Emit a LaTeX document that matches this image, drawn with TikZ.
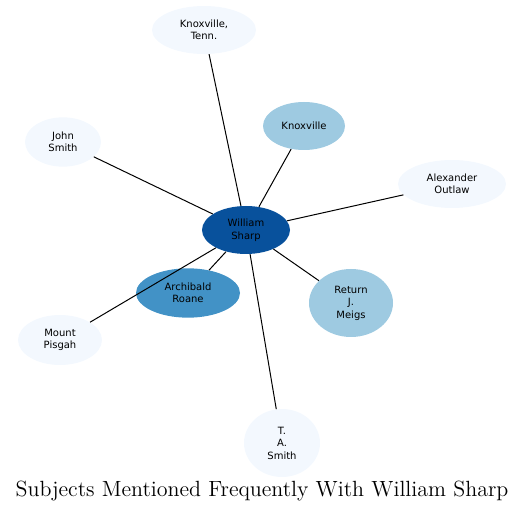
\documentclass[tikz,border=0pt]{standalone}
\usepackage{fontspec}
\newfontfamily\nodefont{DejaVu Sans}
\newfontfamily\titlefont{lmroman12-regular.otf}
\usepackage{tikz}
\usetikzlibrary{shapes.geometric}
\definecolor{BluePale}{HTML}{F3F8FE}
\definecolor{BlueLight}{HTML}{9ECAE1}
\definecolor{BlueMid}{HTML}{4292C6}
\definecolor{BlueDark}{HTML}{08519C}

\begin{document}
\begin{tikzpicture}[
  x=0.75pt,y=-0.75pt,
  subj/.style={ellipse,draw=none,inner sep=0pt,align=center,
               font=\nodefont\fontsize{7.5}{9.4}\selectfont},
  pale/.style={subj,fill=BluePale},
  light/.style={subj,fill=BlueLight},
  mid/.style={subj,fill=BlueMid},
  dark/.style={subj,fill=BlueDark},
  ln/.style={line width=0.75pt,black}
]
\useasboundingbox (0,0) rectangle (525,513);
\node[dark,minimum width=66pt,minimum height=36pt]  (ws) at (246,230) {William\\Sharp};
\node[pale,minimum width=78pt,minimum height=36pt]  (kt) at (204,30)  {Knoxville,\\Tenn.};
\node[light,minimum width=61.5pt,minimum height=36pt] (kx) at (304,126) {Knoxville};
\node[pale,minimum width=57pt,minimum height=37pt]  (js) at (63,142)  {John\\Smith};
\node[pale,minimum width=81pt,minimum height=36pt]  (ao) at (452,184) {Alexander\\Outlaw};
\node[mid,minimum width=78pt,minimum height=37pt]   (ar) at (188,293) {Archibald\\Roane};
\node[light,minimum width=63pt,minimum height=51pt] (rm) at (351,303) {Return\\J.\\Meigs};
\node[pale,minimum width=63pt,minimum height=37.5pt] (mp) at (60,340) {Mount\\Pisgah};
\node[pale,minimum width=57pt,minimum height=51pt]  (ts) at (282,443) {T.\\A.\\Smith};
\draw[ln] (ws) -- (kt);
\draw[ln] (ws) -- (kx);
\draw[ln] (ws) -- (js);
\draw[ln] (ws) -- (ao);
\draw[ln] (ws) -- (ar);
\draw[ln] (ws) -- (rm);
\draw[ln] (ws) -- (mp);
\draw[ln] (ws) -- (ts);
\node[font=\titlefont\fontsize{16.5}{20}\selectfont,inner sep=0pt] (title) at (262,491) {Subjects Mentioned Frequently With William Sharp};
\end{tikzpicture}
\end{document}
